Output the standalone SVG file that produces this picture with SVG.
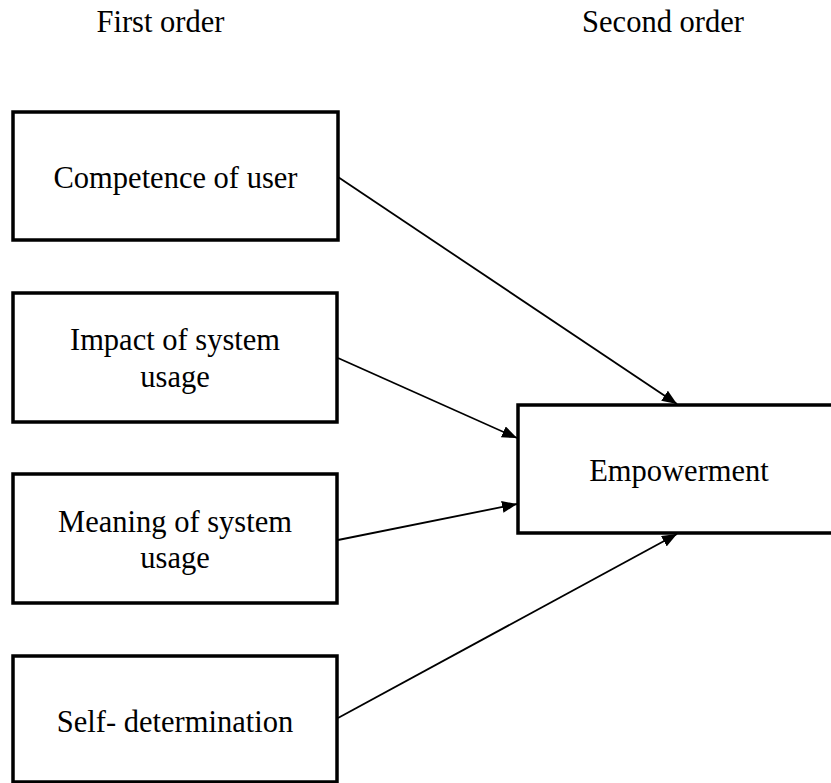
<svg xmlns="http://www.w3.org/2000/svg" width="831" height="783" viewBox="0 0 831 783">
  <defs>
    <style>
      .box { fill: #fff; stroke: #000; stroke-width: 3.5; }
      .lbl { font-family: "Liberation Serif", "Times New Roman", serif; font-size: 30.5px; fill: #000; text-anchor: middle; }
      .edge { stroke: #000; stroke-width: 1.8; fill: none; marker-end: url(#arrow); }
    </style>
    <marker id="arrow" markerUnits="userSpaceOnUse" markerWidth="16" markerHeight="12" refX="15" refY="6" orient="auto">
      <path d="M0,0 L15,6 L0,12 Z" fill="#000"/>
    </marker>
  </defs>
  <rect width="831" height="783" fill="#fff"/>

  <!-- column headings -->
  <text class="lbl" x="160.5" y="32">First order</text>
  <text class="lbl" x="663" y="32">Second order</text>

  <!-- first-order constructs -->
  <g id="competence">
    <rect class="box" x="13" y="112" width="325" height="128"/>
    <text class="lbl" x="175.5" y="188">Competence of user</text>
  </g>
  <g id="impact">
    <rect class="box" x="13" y="293" width="324" height="129"/>
    <text class="lbl" x="175" y="350">Impact of system</text>
    <text class="lbl" x="175" y="387">usage</text>
  </g>
  <g id="meaning">
    <rect class="box" x="13" y="474" width="324" height="129"/>
    <text class="lbl" x="175" y="532">Meaning of system</text>
    <text class="lbl" x="175" y="568">usage</text>
  </g>
  <g id="self-determination">
    <rect class="box" x="13" y="656" width="324" height="126"/>
    <text class="lbl" x="175" y="732">Self- determination</text>
  </g>

  <!-- second-order construct -->
  <g id="empowerment">
    <rect class="box" x="518" y="405" width="330" height="128"/>
    <text class="lbl" x="679" y="481">Empowerment</text>
  </g>

  <!-- connectors -->
  <g id="connectors">
    <line class="edge" x1="338" y1="177" x2="677" y2="404"/>
    <line class="edge" x1="338" y1="358" x2="517" y2="438"/>
    <line class="edge" x1="338" y1="540" x2="517" y2="504"/>
    <line class="edge" x1="338" y1="718" x2="677" y2="534"/>
  </g>
</svg>
